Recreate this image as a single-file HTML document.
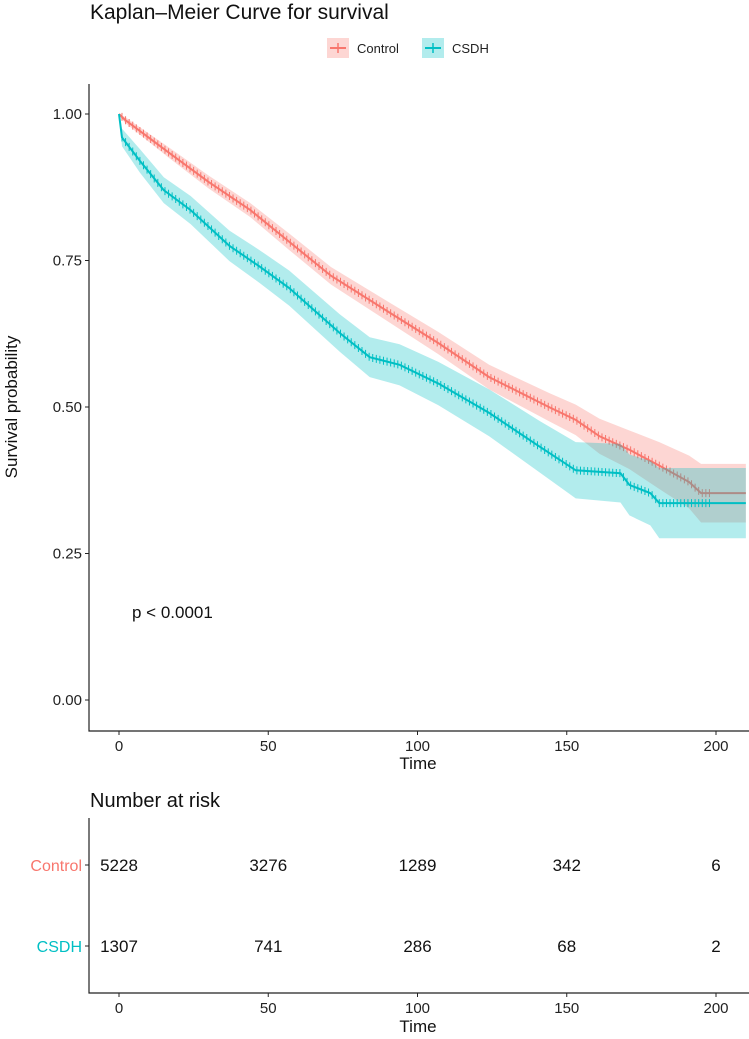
<!DOCTYPE html>
<html><head><meta charset="utf-8"><style>
body{margin:0;background:#fff}
svg text{font-family:"Liberation Sans",sans-serif}
</style></head><body>
<svg id="c" width="749" height="1034" xmlns="http://www.w3.org/2000/svg">
<text x="90" y="19" font-size="21" fill="#111">Kaplan–Meier Curve for survival</text>
<g>
<g>
<rect x="327" y="38" width="22" height="20" fill="#F8766D" opacity="0.3"/>
<line x1="330" y1="48" x2="346" y2="48" stroke="#F8766D" stroke-width="2"/><line x1="338" y1="43" x2="338" y2="53" stroke="#F8766D" stroke-width="1.5"/>
<text x="357" y="53" font-size="13" fill="#222">Control</text></g>
<g>
<rect x="422" y="38" width="22" height="20" fill="#00BFC4" opacity="0.3"/>
<line x1="425" y1="48" x2="441" y2="48" stroke="#00BFC4" stroke-width="2"/><line x1="433" y1="43" x2="433" y2="53" stroke="#00BFC4" stroke-width="1.5"/>
<text x="452" y="53" font-size="13" fill="#222">CSDH</text></g>
</g>
<g id="plot"></g>
<text transform="translate(17,407) rotate(-90)" text-anchor="middle" font-size="17" fill="#111">Survival probability</text>
<text x="418" y="769" text-anchor="middle" font-size="17" fill="#111">Time</text>
<text x="132" y="618" font-size="17" fill="#111">p &lt; 0.0001</text>
<text x="90" y="807" font-size="20" fill="#111">Number at risk</text>
<g id="risk"></g>
<text x="418" y="1032" text-anchor="middle" font-size="17" fill="#111">Time</text>
</svg>
<script>
const ctrlT=[0,2,17,30,44,57,71,91,107,124,144,153,161,171,181,191,195,210];
const ctrlS=[1,0.99,0.933,0.884,0.836,0.782,0.724,0.66,0.609,0.551,0.50,0.478,0.45,0.427,0.40,0.372,0.353,0.353];
const ctrlCI=[0.003,0.005,0.009,0.011,0.012,0.014,0.015,0.017,0.019,0.021,0.024,0.026,0.03,0.033,0.04,0.045,0.05,0.05];
const csdhT=[0,1,7,15,24,37,47,57,74,84,94,107,124,141,153,168,171,178,181,210];
const csdhS=[1,0.96,0.92,0.87,0.836,0.775,0.74,0.703,0.626,0.585,0.572,0.54,0.49,0.432,0.392,0.387,0.367,0.353,0.336,0.336];
const csdhCI=[0,0.015,0.02,0.022,0.024,0.026,0.028,0.03,0.032,0.034,0.035,0.037,0.04,0.044,0.048,0.05,0.052,0.055,0.06,0.06];
const xTicks=[0,50,100,150,200];
const yTicks=[0,0.25,0.5,0.75,1];
const yTickLabels=["0.00","0.25","0.50","0.75","1.00"];
const riskGroups=["Control","CSDH"];
const riskControl=[5228,3276,1289,342,6];
const riskCSDH=[1307,741,286,68,2];
const NS="http://www.w3.org/2000/svg";
const X=t=>119+t*2.985;
const Y=s=>700-s*586;
function mk(tag,attrs,parent){const e=document.createElementNS(NS,tag);for(const k in attrs)e.setAttribute(k,attrs[k]);parent.appendChild(e);return e;}
const plot=document.getElementById('plot');
function series(T,S,CI,col,name){
  let up=[],lo=[];
  for(let i=0;i<T.length;i++){up.push(X(T[i])+','+Y(Math.min(1,S[i]+CI[i])));lo.unshift(X(T[i])+','+Y(S[i]-CI[i]));}
  const band=mk('polygon',{points:up.concat(lo).join(' '),fill:col,opacity:0.3},plot);
  
  
  const pts=T.map((t,i)=>X(t)+','+Y(S[i])).join(' ');
  const ln=mk('polyline',{points:pts,fill:'none',stroke:col,'stroke-width':2},plot);
  
  
  let d='';
  for(let t=1;t<T[T.length-1]-12;t+=1.2){
    let i=0;while(i<T.length-2&&T[i+1]<t)i++;
    const f=(t-T[i])/(T[i+1]-T[i]);const s=S[i]+f*(S[i+1]-S[i]);
    d+='M'+X(t)+' '+(Y(s)-4)+'v8';
  }
  const cz=mk('path',{d:d,stroke:col,'stroke-width':1,fill:'none'},plot);
  
  
}
series(ctrlT,ctrlS,ctrlCI,'#F8766D','control');
series(csdhT,csdhS,csdhCI,'#00BFC4','csdh');
const ax=mk('path',{d:'M89 84V731H749',stroke:'#222','stroke-width':1.2,fill:'none'},plot);


yTicks.forEach((v,i)=>{
  mk('line',{x1:85,x2:89,y1:Y(v),y2:Y(v),stroke:'#222'},plot);
  const t=mk('text',{x:82,y:Y(v)+5,'text-anchor':'end','font-size':15,fill:'#222'},plot);t.textContent=yTickLabels[i];
  
  
});
xTicks.forEach(v=>{
  mk('line',{x1:X(v),x2:X(v),y1:731,y2:735,stroke:'#222'},plot);
  const t=mk('text',{x:X(v),y:751,'text-anchor':'middle','font-size':15,fill:'#222'},plot);t.textContent=v;
  
  
});
const risk=document.getElementById('risk');
mk('path',{d:'M89 818V993H749',stroke:'#222','stroke-width':1.2,fill:'none'},risk);
const rowY=[865,946],cols=['#F8766D','#00BFC4'],vals=[riskControl,riskCSDH];
riskGroups.forEach((g,r)=>{
  mk('line',{x1:85,x2:89,y1:rowY[r],y2:rowY[r],stroke:'#222'},risk);
  const l=mk('text',{x:82,y:rowY[r]+6,'text-anchor':'end','font-size':16,fill:cols[r]},risk);l.textContent=g;
  
  
  vals[r].forEach((v,i)=>{
    const t=mk('text',{x:X(xTicks[i]),y:rowY[r]+6,'text-anchor':'middle','font-size':17,fill:'#111'},risk);t.textContent=v;
    
    
  });
});
xTicks.forEach(v=>{
  mk('line',{x1:X(v),x2:X(v),y1:993,y2:997,stroke:'#222'},risk);
  const t=mk('text',{x:X(v),y:1013,'text-anchor':'middle','font-size':15,fill:'#222'},risk);t.textContent=v;
  
  
});
</script>
</body></html>
